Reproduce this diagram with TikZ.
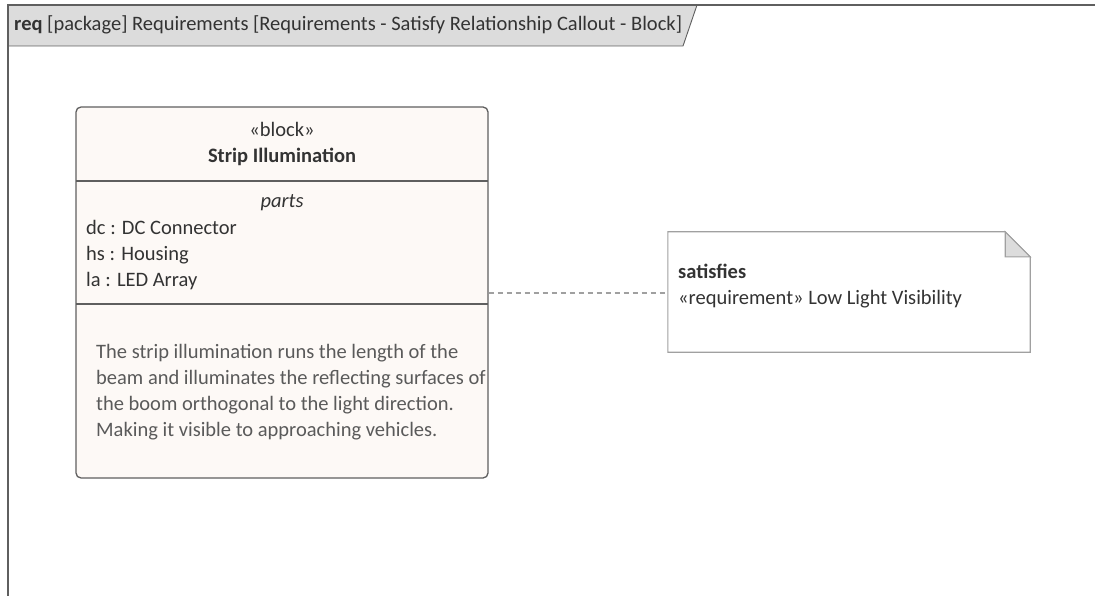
\documentclass[tikz,border=0pt]{standalone}
\usepackage{fontspec}
\setmainfont{Carlito}
\usetikzlibrary{positioning}
\definecolor{blkfill}{HTML}{FDF9F6}
\definecolor{blkline}{HTML}{5F5F5F}
\definecolor{notegray}{HTML}{A0A0A0}
\definecolor{tabgray}{HTML}{DCDCDC}
\definecolor{txtdark}{HTML}{333333}
\definecolor{txtgray}{HTML}{5A5A5A}

\begin{document}
\begin{tikzpicture}[x=1pt, y=-1pt, every node/.style={font=\fontsize{20.5}{24}\selectfont, text=txtdark, inner sep=0pt},
    line/.style={anchor=base west}]
    \useasboundingbox (0,0) rectangle (1095,596);
    % frame
    \draw[fill=tabgray, draw=blkline, line width=0.9pt] (8,5) -- (697,5) -- (683,46) -- (8,46) -- cycle;
    \draw[blkline, line width=1.3pt] (8,596) -- (8,5) -- (1095,5);
    \node[anchor=base west] (hdr) at (14,31) {\textbf{req} [package] Requirements [Requirements - Satisfy Relationship Callout - Block]};
    % block
    \node[draw=blkline, fill=blkfill, rounded corners=5pt, line width=1.3pt, minimum width=412pt, minimum height=371pt] (blk) at (282,292.5) {};
    \draw[blkline, line width=1.3pt] (76,181) -- (488,181);
    \draw[blkline, line width=1.3pt] (76,304) -- (488,304);
    \node[anchor=base] (stereo) at (282,137) {«block»};
    \node[anchor=base] (name) at (282,163) {\textbf{Strip Illumination}};
    \node[anchor=base] (parts) at (282,208) {\textit{parts}};
    \node[line] (dc) at (86,234) {dc : DC Connector};
    \node[line] (hs) at (86,260) {hs : Housing};
    \node[line] (la) at (86,286) {la : LED Array};
    \node[anchor=north west, text=txtgray, align=left, font=\fontsize{20.5}{26}\selectfont] (desc) at (96,344)
      {The strip illumination runs the length of the\\beam and illuminates the reflecting surfaces of\\the boom orthogonal to the light direction.\\Making it visible to approaching vehicles.};
    % note
    \node[minimum width=362pt, minimum height=120pt] (note) at (849,292) {};
    \draw[notegray, fill=white, line width=1.1pt] (note.north west) -- ([xshift=-25pt]note.north east) -- ([yshift=-25pt]note.north east) -- (note.south east) -- (note.south west) -- cycle;
    \draw[notegray, fill=tabgray, line width=1.1pt] ([xshift=-25pt]note.north east) -- ([xshift=-25pt,yshift=-25pt]note.north east) -- ([yshift=-25pt]note.north east) -- cycle;
    \node[line] (sat) at (678,278) {\textbf{satisfies}};
    \node[line] (req) at (678,304) {«requirement» Low Light Visibility};
    % satisfy link
    \draw[notegray, dash pattern=on 5pt off 4pt, line width=1.1pt] (blk.east |- 0,293) -- (note.west |- 0,293);
\end{tikzpicture}
\end{document}
